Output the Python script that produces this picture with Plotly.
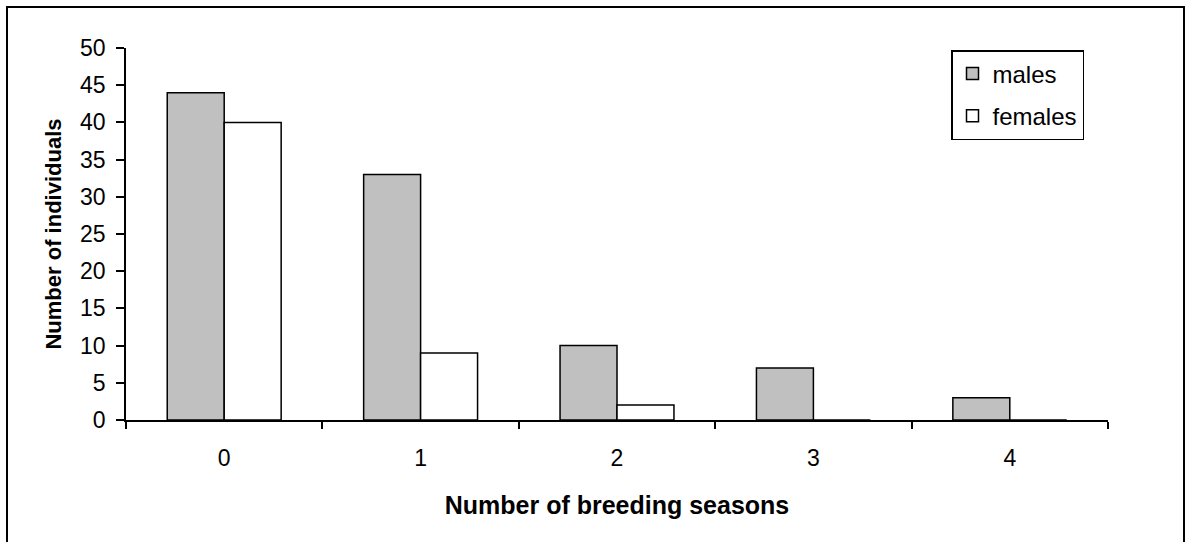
import plotly.graph_objects as go

categories = ["0", "1", "2", "3", "4"]
males = [44, 33, 10, 7, 3]
females = [40, 9, 2, 0, 0]
y_ticks = [0, 5, 10, 15, 20, 25, 30, 35, 40, 45, 50]

FONT = "Liberation Sans, Arial, sans-serif"

fig = go.Figure()
fig.add_trace(go.Bar(x=categories, y=males, name="males", legendgroup="m",
                     marker=dict(color="#C0C0C0", line=dict(color="black", width=1.5))))
fig.add_trace(go.Bar(x=categories, y=females, name="females", legendgroup="f",
                     marker=dict(color="white", line=dict(color="black", width=1.5))))

L, R, T, B = 126, 80, 48, 122
W, H = 1188, 542
pw, ph = W - L - R, H - T - B

fig.update_layout(
    width=W, height=H,
    margin=dict(l=L, r=R, t=T, b=B),
    paper_bgcolor="white", plot_bgcolor="white",
    barmode="group", bargap=0.42, bargroupgap=0,
    font=dict(family=FONT, size=23, color="black"),
    showlegend=True,
    legend=dict(x=(951 - L) / pw, y=(420 - 50) / ph, xanchor="left", yanchor="top",
                bordercolor="black", borderwidth=1.5, bgcolor="white",
                font=dict(size=24), traceorder="grouped", tracegroupgap=8),
    xaxis=dict(type="category", showline=True, linecolor="black", linewidth=1.5,
               ticks="outside", tickson="boundaries", ticklen=7, tickcolor="black",
               tickwidth=1.5, showgrid=False, ticklabelstandoff=17,
               title=dict(text="<b>Number of breeding seasons</b>", font=dict(size=25), standoff=26)),
    yaxis=dict(range=[0, 50], tickvals=y_ticks, showline=True, linecolor="black", linewidth=1.5,
               ticks="outside", ticklen=8, tickcolor="black", tickwidth=1.5, showgrid=False,
               zeroline=False, ticklabelstandoff=6,
               title=dict(text="<b>Number of individuals</b>", font=dict(size=22), standoff=12)),
)

fig.add_shape(type="rect", xref="paper", yref="paper",
              x0=(7 - L) / pw, x1=(1184 - L) / pw,
              y0=(420 - 550) / ph, y1=(420 - 7) / ph,
              line=dict(color="black", width=2), fillcolor="rgba(0,0,0,0)", layer="below")

fig.write_html("out.html", config={"displayModeBar": False},
               post_script="document.body.style.margin='0';document.body.style.overflow='hidden';")
